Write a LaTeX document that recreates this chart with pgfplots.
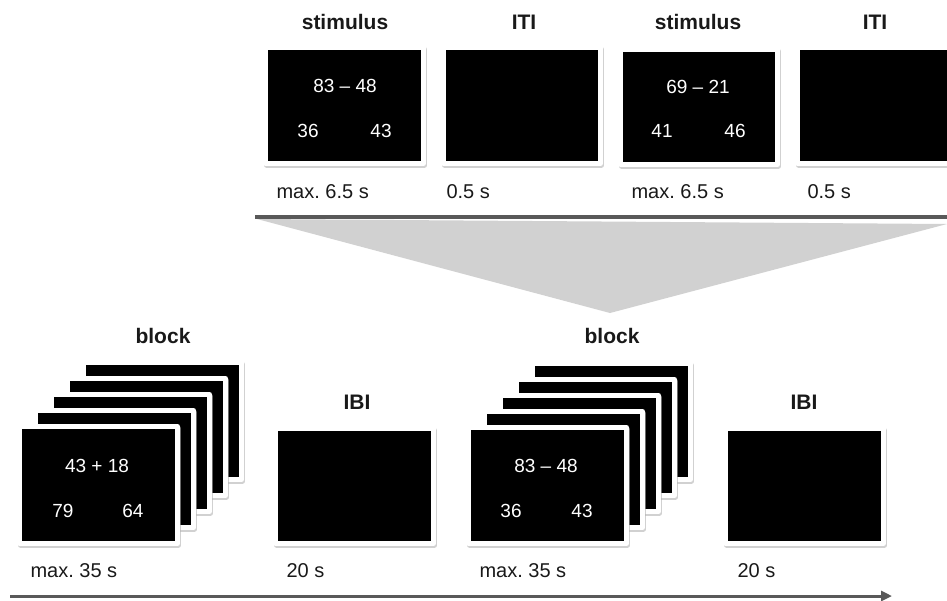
\documentclass[border=0pt]{standalone}
\usepackage{pgfplots}
\pgfplotsset{compat=1.18}
\usepackage{fontspec}
\setmainfont{Liberation Sans}
\usetikzlibrary{arrows.meta}
\frenchspacing

% one screen: black face with a white frame and a soft shadow
\newcommand{\card}[4]{%
  \addplot[draw=black!30, fill=black!30, line width=5pt, line join=round,
           opacity=0.6, xshift=1pt, yshift=-1.5pt]
    coordinates {(#1,#2)(#3,#2)(#3,#4)(#1,#4)} --cycle;
  \addplot[draw=white, fill=black, line width=5pt, line join=round]
    coordinates {(#1,#2)(#3,#2)(#3,#4)(#1,#4)} --cycle;
}

\tikzset{
  head/.style={font=\fontsize{21}{24}\selectfont\bfseries, text=black!90, anchor=base},
  dur/.style={font=\fontsize{20}{24}\selectfont, text=black!90, anchor=base west},
  num/.style={font=\fontsize{19}{22}\selectfont, text=white, anchor=base},
}

\begin{document}
\begin{tikzpicture}
\begin{axis}[
  scale only axis, width=947pt, height=600pt,
  xmin=0, xmax=947, ymin=0, ymax=600, y dir=reverse,
  hide axis,
]
% zoom wedge from the trial line down to the block
\addplot[draw=none, fill=black!18] coordinates {(257,219)(947,224)(610,313)} --cycle;
\addplot[draw=black!65, line width=3.5pt] coordinates {(255,217)(947,217)};

% trial level
\card{265.5}{47.5}{423.5}{163.5}
\card{443.5}{47.5}{600.5}{163.5}
\card{620.5}{49.5}{777.5}{164.5}
\card{797.5}{47.5}{960}{163.5}

% block 1 (stack, back to front)
\card{83.5}{362.5}{241.5}{479.5}
\card{67.5}{378.5}{225.5}{495.5}
\card{51.5}{394.5}{209.5}{511.5}
\card{35.5}{410.5}{193.5}{527.5}
\card{19.5}{426.5}{177.5}{543.5}
\card{275.5}{428.5}{433.5}{543.5}

% block 2
\card{532.5}{363.5}{690.5}{479.5}
\card{516.5}{379.5}{674.5}{495.5}
\card{500.5}{395.5}{658.5}{511.5}
\card{484.5}{411.5}{642.5}{527.5}
\card{468.5}{427.5}{626.5}{543.5}
\card{725.5}{428.5}{883.5}{543.5}

% time axis
\addplot[draw=black!65, line width=3pt, -{Triangle[length=11pt,width=10pt]}]
  coordinates {(10,596)(892,596)};

% labels, top
\node[head] at (345,29) {stimulus};
\node[head] at (524,29) {ITI};
\node[head] at (698,29) {stimulus};
\node[head] at (875,29) {ITI};
\node[num] at (345,92) {83 – 48};
\node[num] at (308,137) {36};
\node[num] at (381,137) {43};
\node[num] at (698,93) {69 – 21};
\node[num] at (662,137) {41};
\node[num] at (735,137) {46};
\node[dur] at (273,198) {max. 6.5 s};
\node[dur] at (443,198) {0.5 s};
\node[dur] at (628,198) {max. 6.5 s};
\node[dur] at (804,198) {0.5 s};

% labels, bottom
\node[head] at (163,343) {block};
\node[head] at (357,409) {IBI};
\node[head] at (612,343) {block};
\node[head] at (804,409) {IBI};
\node[num] at (97,472) {43 + 18};
\node[num] at (63,517) {79};
\node[num] at (133,517) {64};
\node[num] at (546,472) {83 – 48};
\node[num] at (511,517) {36};
\node[num] at (582,517) {43};
\node[dur] at (27,577) {max. 35 s};
\node[dur] at (283,577) {20 s};
\node[dur] at (476,577) {max. 35 s};
\node[dur] at (734,577) {20 s};
\end{axis}
\pgfresetboundingbox
\path[use as bounding box] (current axis.south west) rectangle (current axis.north east);
\end{tikzpicture}
\end{document}
